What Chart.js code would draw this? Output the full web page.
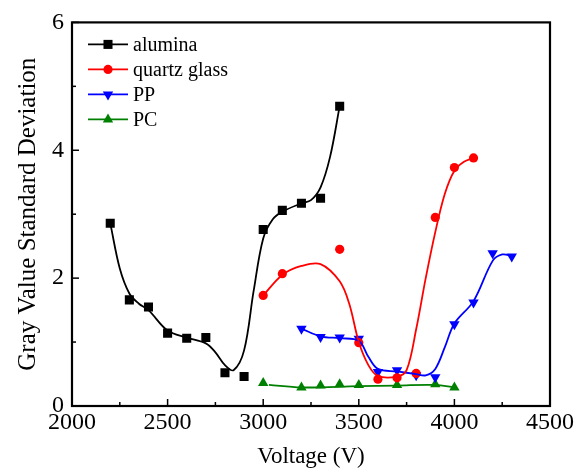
<!DOCTYPE html>
<html>
<head>
<meta charset="utf-8">
<script src="https://cdn.jsdelivr.net/npm/chart.js@4/dist/chart.umd.min.js"></script>
<style>
  html, body { margin: 0; padding: 0; background: #fff; }
  #wrap { width: 582px; height: 471px; }
</style>
</head>
<body>
<div id="wrap"><canvas id="chart" width="582" height="471"></canvas></div>
<script>
// measured points (V, std dev)
const aluminaV = [2200, 2300, 2400, 2500, 2600, 2700, 2800, 2900, 3000, 3100, 3200, 3300, 3400];
const aluminaS = [2.86, 1.66, 1.55, 1.14, 1.06, 1.07, 0.52, 0.46, 2.76, 3.06, 3.17, 3.25, 4.69];
const quartzV = [3000, 3100, 3400, 3500, 3600, 3700, 3800, 3900, 4000, 4100];
const quartzS = [1.73, 2.07, 2.45, 0.99, 0.42, 0.44, 0.51, 2.95, 3.73, 3.88];
const ppV = [3200, 3300, 3400, 3500, 3600, 3700, 3800, 3900, 4000, 4100, 4200, 4300];
const ppS = [1.21, 1.08, 1.07, 1.05, 0.53, 0.56, 0.48, 0.45, 1.28, 1.62, 2.39, 2.34];
const pcV = [3000, 3200, 3300, 3400, 3500, 3700, 3900, 4000];
const pcS = [0.36, 0.29, 0.32, 0.34, 0.33, 0.33, 0.34, 0.29];

// smoothed fit curves
const aluminaFitV = [2200, 2250, 2300, 2350, 2400, 2500, 2600, 2700, 2750, 2800, 2845, 2900, 2950, 3000, 3050, 3100, 3200, 3250, 3300, 3350, 3400];
const aluminaFitS = [2.86, 2.15, 1.76, 1.6, 1.5, 1.18, 1.07, 0.98, 0.84, 0.64, 0.56, 0.87, 1.8, 2.62, 2.92, 3.04, 3.17, 3.22, 3.42, 3.9, 4.69];
const quartzFitV = [3000, 3100, 3200, 3300, 3400, 3450, 3500, 3550, 3600, 3700, 3750, 3800, 3850, 3900, 3950, 4000, 4050, 4100];
const quartzFitS = [1.73, 2.05, 2.19, 2.22, 1.95, 1.6, 1.0, 0.64, 0.47, 0.46, 0.56, 1.2, 2.0, 2.72, 3.32, 3.68, 3.82, 3.88];
const ppFitV = [3200, 3300, 3400, 3500, 3550, 3600, 3700, 3800, 3850, 3900, 3950, 4000, 4100, 4200, 4250, 4300];
const ppFitS = [1.21, 1.09, 1.06, 1.02, 0.77, 0.58, 0.54, 0.5, 0.48, 0.58, 0.92, 1.29, 1.64, 2.27, 2.37, 2.35];
const pcFitV = [3030, 3200, 3500, 3700, 3900, 4000];
const pcFitS = [0.33, 0.29, 0.31, 0.32, 0.33, 0.29];

const xTicks = [2000, 2500, 3000, 3500, 4000, 4500];
const yTicks = [0, 2, 4, 6];

const SERIF = "'Liberation Serif', 'DejaVu Serif', serif";

const series = [
  { name: 'alumina', color: '#000000', style: 'rect', r: 6.4, rot: 0, v: aluminaV, s: aluminaS, fv: aluminaFitV, fs: aluminaFitS },
  { name: 'quartz glass', color: '#ff0000', style: 'circle', r: 4.6, rot: 0, v: quartzV, s: quartzS, fv: quartzFitV, fs: quartzFitS },
  { name: 'PP', color: '#0000ff', style: 'triangle', r: 6, rot: 180, v: ppV, s: ppS, fv: ppFitV, fs: ppFitS },
  { name: 'PC', color: '#008000', style: 'triangle', r: 6, rot: 0, v: pcV, s: pcS, fv: pcFitV, fs: pcFitS },
];

const pts = (xs, ys) => xs.map((x, i) => ({ x, y: ys[i] }));

const datasets = [];
series.forEach(d => {
  datasets.push({
    label: d.name + ' fit',
    data: pts(d.fv, d.fs),
    showLine: true,
    borderColor: d.color,
    borderWidth: 1.8,
    pointRadius: 0,
    tension: 0.35,
  });
});
series.forEach(d => {
  datasets.push({
    label: d.name,
    data: pts(d.v, d.s),
    showLine: false,
    pointStyle: d.style,
    pointRotation: d.rot,
    pointRadius: d.r,
    pointBackgroundColor: d.color,
    pointBorderColor: d.color,
    pointBorderWidth: 0,
  });
});

// frame, inward ticks and the legend box
const decorations = {
  id: 'decorations',
  afterDraw(chart) {
    const { ctx, chartArea: a, scales } = chart;
    ctx.save();
    ctx.strokeStyle = '#000';
    ctx.lineWidth = 1.5;
    const x = scales.x, y = scales.y;
    const tick = (px, py, dx, dy) => { ctx.beginPath(); ctx.moveTo(px, py); ctx.lineTo(px + dx, py + dy); ctx.stroke(); };
    const xs = x.ticks.map(t => t.value);
    xs.forEach((v, i) => {
      const p = x.getPixelForValue(v);
      tick(p, a.bottom, 0, -7);
      if (i < xs.length - 1) tick(x.getPixelForValue((v + xs[i + 1]) / 2), a.bottom, 0, -4);
    });
    const ys = y.ticks.map(t => t.value);
    ys.forEach((v, i) => {
      const p = y.getPixelForValue(v);
      tick(a.left, p, 7, 0);
      if (i < ys.length - 1) tick(a.left, y.getPixelForValue((v + ys[i + 1]) / 2), 4, 0);
    });
    ctx.lineWidth = 2.2;
    ctx.strokeRect(a.left, a.top, a.right - a.left, a.bottom - a.top);

    // legend
    ctx.font = '20px ' + SERIF;
    ctx.textBaseline = 'middle';
    series.forEach((d, i) => {
      const ly = a.top + 22 + i * 25;
      ctx.strokeStyle = d.color;
      ctx.lineWidth = 1.8;
      ctx.beginPath(); ctx.moveTo(a.left + 16, ly); ctx.lineTo(a.left + 56, ly); ctx.stroke();
      ctx.fillStyle = d.color;
      Chart.helpers.drawPoint(ctx, { pointStyle: d.style, rotation: d.rot, radius: d.r, borderWidth: 0 }, a.left + 36, ly);
      ctx.fillStyle = '#000';
      ctx.fillText(d.name, a.left + 61, ly + 1);
    });
    ctx.restore();
  }
};

new Chart(document.getElementById('chart'), {
  type: 'scatter',
  data: { datasets },
  options: {
    responsive: false,
    animation: false,
    layout: { padding: { top: 21, right: 32, left: 0, bottom: 0 } },
    plugins: { legend: { display: false }, tooltip: { enabled: false } },
    scales: {
      x: {
        type: 'linear', min: 2000, max: 4500,
        afterBuildTicks: s => { s.ticks = xTicks.map(value => ({ value })); },
        afterFit: s => { s.height = 65; },
        grid: { display: false, drawTicks: false },
        border: { display: false },
        ticks: { color: '#000', padding: 2, font: { family: SERIF, size: 24 }, callback: v => String(v) },
        title: { display: true, text: 'Voltage (V)', color: '#000', padding: { top: 0, bottom: 0 }, font: { family: SERIF, size: 23 } },
      },
      y: {
        type: 'linear', min: 0, max: 6,
        afterBuildTicks: s => { s.ticks = yTicks.map(value => ({ value })); },
        afterFit: s => { s.width = 72; },
        grid: { display: false, drawTicks: false },
        border: { display: false },
        ticks: { color: '#000', padding: 8, font: { family: SERIF, size: 24 }, callback: v => String(v) },
        title: { display: true, text: 'Gray Value Standard Deviation', color: '#000', padding: { top: 13, bottom: 0 }, font: { family: SERIF, size: 25 } },
      },
    },
  },
  plugins: [decorations],
});
</script>
</body>
</html>
